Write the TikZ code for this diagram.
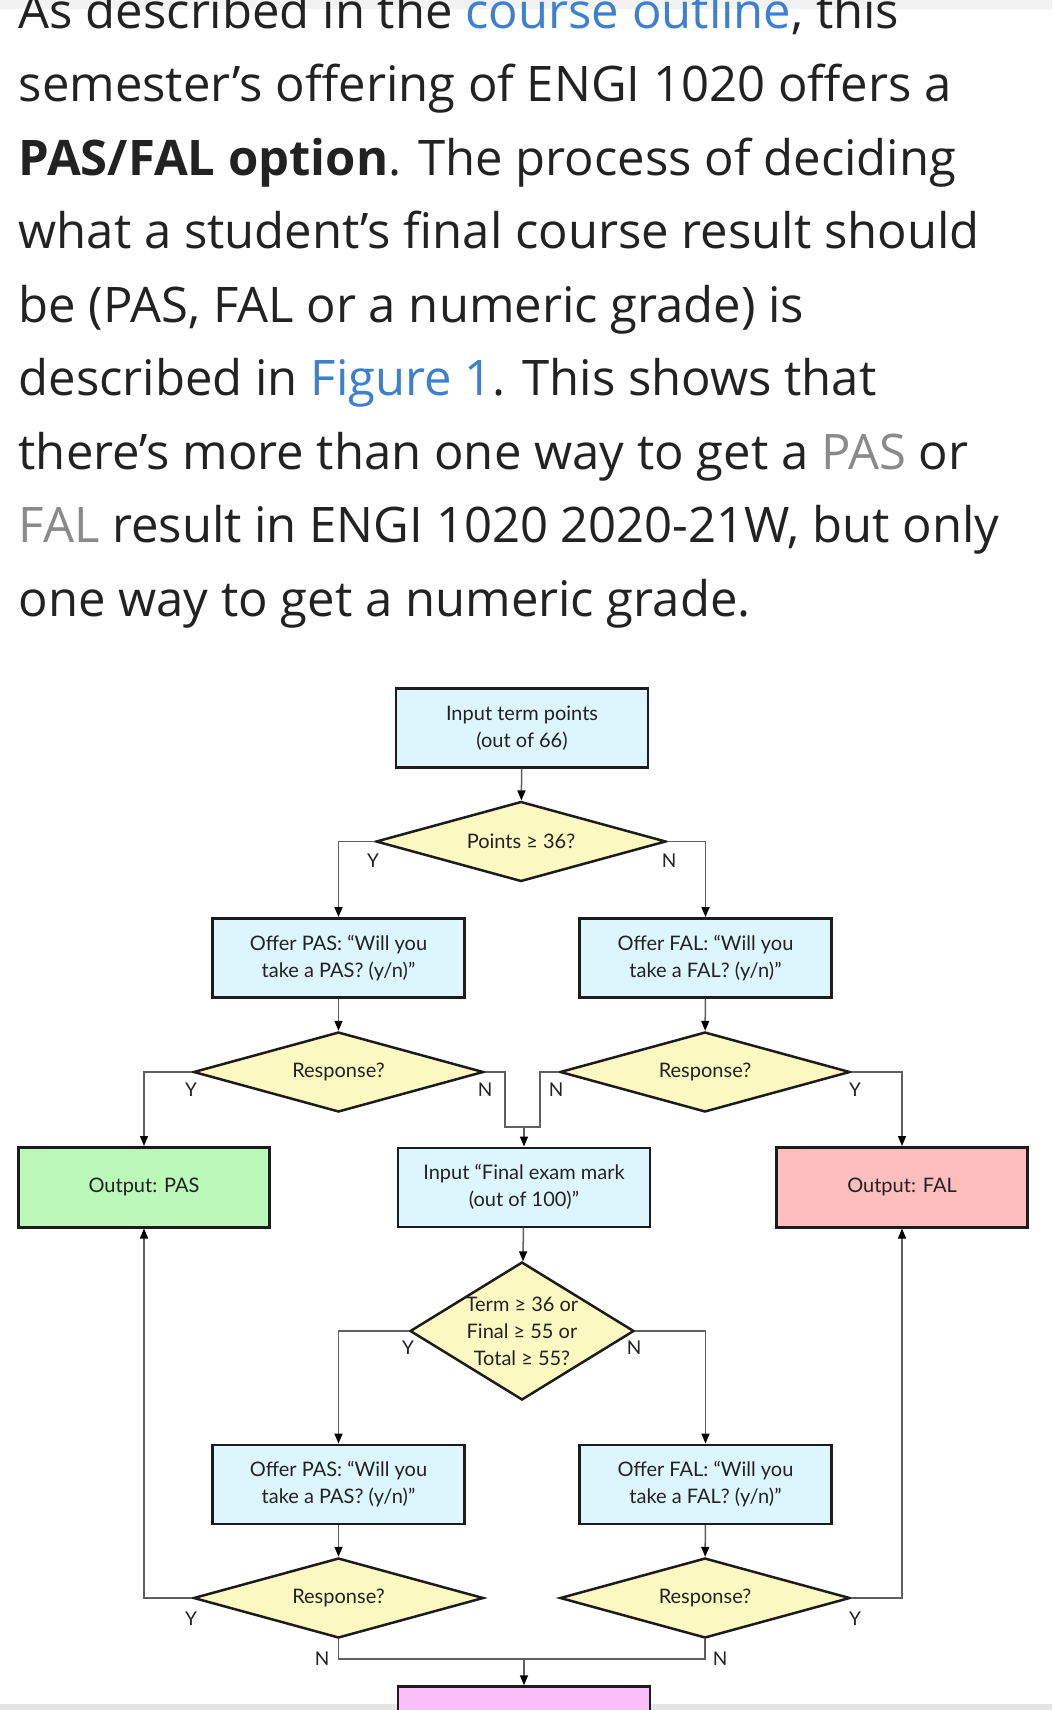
\documentclass[tikz,border=0pt]{standalone}
\usepackage{fontspec}
\setmainfont{Open Sans}
\newfontfamily\chartfont{Lato}
\usetikzlibrary{shapes.geometric, arrows.meta}
\definecolor{testo}{RGB}{34,34,34}
\definecolor{collegamento}{RGB}{61,127,209}
\definecolor{sigla}{RGB}{138,138,138}
\definecolor{azzurro}{RGB}{221,246,253}
\definecolor{giallo}{RGB}{252,248,194}
\definecolor{verde}{RGB}{186,249,185}
\definecolor{rosso}{RGB}{255,190,190}
\definecolor{viola}{RGB}{250,190,250}
\definecolor{bordo}{RGB}{28,28,28}
\definecolor{filo}{RGB}{95,95,95}
\tikzset{
  riga/.style     = {anchor=base west, inner sep=0pt, text=testo, font=\fontsize{49}{73.5}\selectfont},
  passo/.style    = {rectangle, draw=bordo, line width=2.5pt, fill=azzurro, minimum width=252pt, minimum height=79pt, inner sep=0pt, align=center, text=testo, font=\chartfont\fontsize{20}{27}\selectfont},
  esito/.style    = {passo, minimum width=251pt, minimum height=80pt},
  scelta/.style   = {diamond, draw=bordo, line width=2.5pt, fill=giallo, aspect=3.6, minimum width=290pt, minimum height=80pt, inner sep=0pt, align=center, text=testo, font=\chartfont\fontsize{20}{27}\selectfont},
  linea/.style    = {draw=filo, line width=1.5pt},
  freccia/.style  = {linea, -{Triangle[length=10pt, width=8pt, color=black]}},
  sn/.style       = {inner sep=0pt, text=testo, font=\chartfont\fontsize{19}{19}\selectfont}
}

\begin{document}
\begin{tikzpicture}[x=1pt, y=-1pt]

  \clip (0,0) rectangle (1052,1710);
  \fill[white] (0,0) rectangle (1052,1710);
  \fill[black!5] (0,0) rectangle (1052,9);
  \fill[black!10] (0,1704) rectangle (1052,1710);

  % testo della pagina
  \node[riga] (r1) at (18.5,28.3)  {As described in the \textcolor{collegamento}{course outline}, this};
  \node[riga] (r2) at (18.5,101.8) {semester’s offering of ENGI 1020 offers a};
  \node[riga] (r3) at (18.5,175.3) {\textbf{PAS/FAL option}. The process of deciding};
  \node[riga] (r4) at (18.5,248.8) {what a student’s final course result should};
  \node[riga] (r5) at (18.5,322.3) {be (PAS, FAL or a numeric grade) is};
  \node[riga] (r6) at (18.5,395.8) {described in \textcolor{collegamento}{Figure 1}. This shows that};
  \node[riga] (r7) at (18.5,469.3) {there’s more than one way to get a \textcolor{sigla}{PAS} or};
  \node[riga] (r8) at (18.5,542.8) {\textcolor{sigla}{FAL} result in ENGI 1020 2020-21W, but only};
  \node[riga] (r9) at (18.5,616.3) {one way to get a numeric grade.};

  % prima parte: punti del corso
  \node[passo]  (inp)   at (522,727.75)   {Input term points\\(out of 66)};
  \node[scelta] (pts)   at (521,841.5)    {Points ≥ 36?};
  \node[passo]  (offp1) at (338.5,957.75) {Offer PAS: “Will you\\take a PAS? (y/n)”};
  \node[passo]  (offf1) at (705.5,957.75) {Offer FAL: “Will you\\take a FAL? (y/n)”};
  \node[scelta] (resl1) at (338.5,1072)   {Response?};
  \node[scelta] (resr1) at (705,1072)     {Response?};

  % esiti e esame finale
  \node[esito, fill=verde] (outp) at (144,1187.25) {Output: PAS};
  \node[passo]             (fin)  at (524,1187.25) {Input “Final exam mark\\(out of 100)”};
  \node[esito, fill=rosso] (outf) at (902,1187.25) {Output: FAL};
  \node[scelta, aspect=1.62, minimum width=224pt, minimum height=138pt, inner sep=-20pt]
                (tot)   at (522,1331)     {Term ≥ 36 or\\Final ≥ 55 or\\Total ≥ 55?};

  % seconda parte
  \node[passo]  (offp2) at (338.5,1484.25) {Offer PAS: “Will you\\take a PAS? (y/n)”};
  \node[passo]  (offf2) at (705.5,1484.25) {Offer FAL: “Will you\\take a FAL? (y/n)”};
  \node[scelta] (resl2) at (338.5,1598)    {Response?};
  \node[scelta] (resr2) at (705,1598)      {Response?};
  \node[passo, fill=viola, minimum height=80pt] (ris) at (524,1726.5) {};

  \coordinate (nl)  at (505,1127);
  \coordinate (nr)  at (540,1127);
  \coordinate (nj)  at (524,1127);
  \coordinate (bl)  at (338.5,1659);
  \coordinate (bj)  at (524,1659);

  \draw[freccia] (inp) -- (pts);
  \draw[freccia] (pts.west) -| (offp1.north);
  \draw[freccia] (pts.east) -| (offf1.north);
  \draw[freccia] (offp1) -- (resl1);
  \draw[freccia] (offf1) -- (resr1);
  \draw[freccia] (resl1.west) -| (outp.north);
  \draw[freccia] (resr1.east) -| (outf.north);
  \draw[linea]   (resl1.east) -| (nl) -- (nr) |- (resr1.west);
  \draw[freccia] (nj) -- (fin.north);

  \draw[freccia] (fin) -- (tot);
  \draw[freccia] (tot.west) -| (offp2.north);
  \draw[freccia] (tot.east) -| (offf2.north);
  \draw[freccia] (offp2) -- (resl2);
  \draw[freccia] (offf2) -- (resr2);
  \draw[freccia] (resl2.west) -| (outp.south);
  \draw[freccia] (resr2.east) -| (outf.south);
  \draw[linea]   (resl2.south) -- (bl) -| (resr2.south);
  \draw[freccia] (bj) -- (ris.north);

  % etichette Y / N
  \node[sn] (y1) at (373,861)   {Y};
  \node[sn] (n1) at (669,861)   {N};
  \node[sn] (y2) at (191,1090)  {Y};
  \node[sn] (n2) at (485,1090)  {N};
  \node[sn] (n3) at (556,1090)  {N};
  \node[sn] (y3) at (855,1090)  {Y};
  \node[sn] (y4) at (408,1348)  {Y};
  \node[sn] (n4) at (634,1348)  {N};
  \node[sn] (y5) at (191,1619)  {Y};
  \node[sn] (y6) at (855,1619)  {Y};
  \node[sn] (n5) at (322,1659)  {N};
  \node[sn] (n6) at (720,1659)  {N};

\end{tikzpicture}
\end{document}
